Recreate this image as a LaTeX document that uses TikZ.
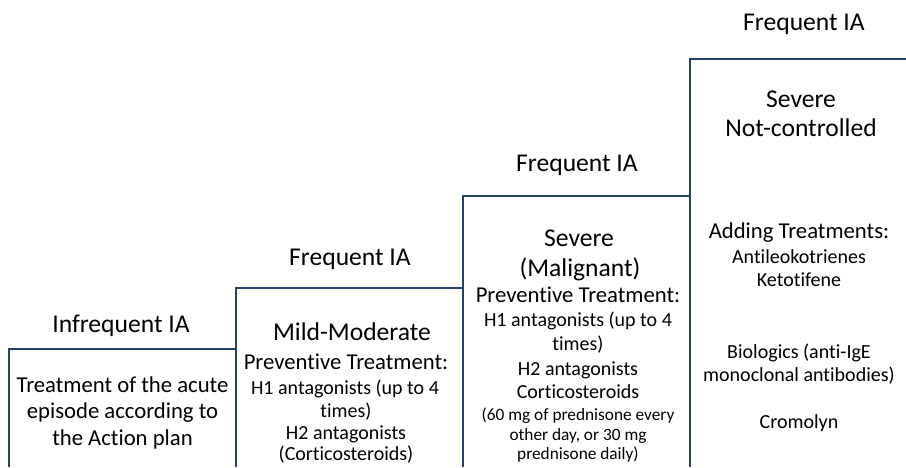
\documentclass[tikz,border=0pt]{standalone}
\usepackage{fontspec}
\setmainfont{Carlito}[Ligatures=NoCommon]
\definecolor{stepblue}{HTML}{26406C}
\tikzset{
  stepline/.style={draw=stepblue, line width=1.3pt, line join=miter},
  ln/.style={inner sep=0pt, text height=0.65em, text depth=0pt, anchor=center},
  ttl/.style={ln, font=\fontsize{25.6}{30}\selectfont},
  sub/.style={ln, font=\fontsize{22.7}{27}\selectfont},
  lst/.style={ln, font=\fontsize{20}{24}\selectfont},
  sml/.style={ln, font=\fontsize{17.3}{21}\selectfont},
}
\begin{document}
\begin{tikzpicture}[x=1pt,y=-1pt]
\useasboundingbox (0,0) rectangle (906,467);
% step outlines
\coordinate (b1bl) at (9,467);   \coordinate (b1tl) at (9,349);
\coordinate (b2bl) at (236,467); \coordinate (b2tl) at (236,288);
\coordinate (b3bl) at (463,467); \coordinate (b3tl) at (463,196);
\coordinate (b4bl) at (690,467); \coordinate (b4tl) at (690,59);
\coordinate (b4tr) at (906,59);
\draw[stepline] (b1bl) -- (b1tl) -- (b2tl |- b1tl);
\draw[stepline] (b2bl) -- (b2tl) -- (b3tl |- b2tl);
\draw[stepline] (b3bl) -- (b3tl) -- (b4tl |- b3tl);
\draw[stepline] (b4bl) -- (b4tl) -- (b4tr);
% step 1
\node[ttl] (l1) at (121,329) {Infrequent IA};
\node[sub] (t1a) at (122.5,389) {Treatment of the acute};
\node[sub] (t1b) at (122.5,415) {episode according to};
\node[sub] (t1c) at (122.5,442) {the Action plan};
% step 2
\node[ttl] (l2) at (350,262) {Frequent IA};
\node[ttl] (t2a) at (352,337) {Mild-Moderate};
\node[sub] (t2b) at (346,366) {Preventive Treatment:};
\node[lst] (t2c) at (345,391) {H1 antagonists (up to 4};
\node[lst] (t2d) at (346,414) {times)};
\node[lst] (t2e) at (346,436) {H2 antagonists};
\node[lst] (t2f) at (346,457) {(Corticosteroids)};
% step 3
\node[ttl] (l3) at (577,168) {Frequent IA};
\node[ttl] (t3a) at (579,243) {Severe};
\node[ttl] (t3b) at (580,273) {(Malignant)};
\node[sub] (t3c) at (578,299) {Preventive Treatment:};
\node[lst] (t3d) at (578,323) {H1 antagonists (up to 4};
\node[lst] (t3e) at (578,347) {times)};
\node[lst] (t3f) at (578,372) {H2 antagonists};
\node[lst] (t3g) at (578,395) {Corticosteroids};
\node[sml] (t3h) at (578,417) {(60 mg of prednisone every};
\node[sml] (t3i) at (578,437) {other day, or 30 mg};
\node[sml] (t3j) at (578,456) {prednisone daily)};
% step 4
\node[ttl] (l4) at (804,27) {Frequent IA};
\node[ttl] (t4a) at (801,104) {Severe};
\node[ttl] (t4b) at (801,133) {Not-controlled};
\node[sub] (t4c) at (799,235) {Adding Treatments:};
\node[lst] (t4d) at (799,260) {Antileokotrienes};
\node[lst] (t4e) at (799,283) {Ketotifene};
\node[lst] (t4f) at (799,355) {Biologics (anti-IgE};
\node[lst] (t4g) at (799,378) {monoclonal antibodies)};
\node[lst] (t4h) at (799,425) {Cromolyn};
\end{tikzpicture}
\end{document}
